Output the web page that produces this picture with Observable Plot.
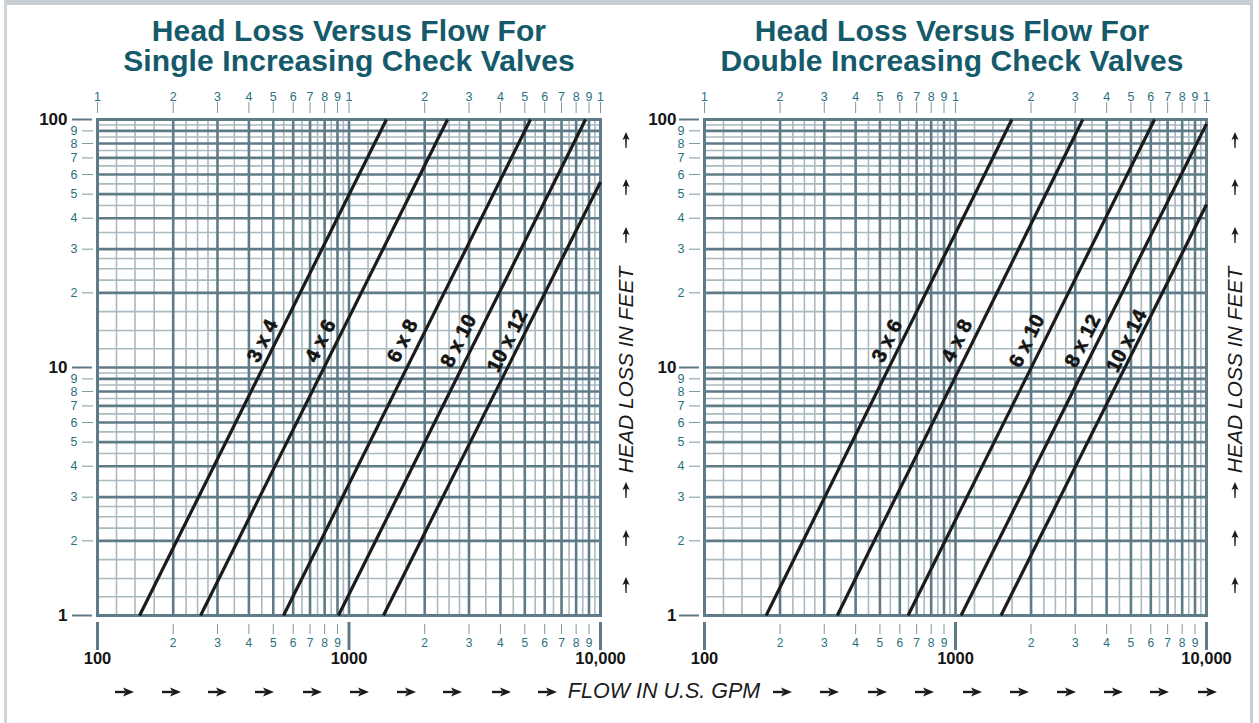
<!DOCTYPE html>
<html><head><meta charset="utf-8">
<script src="https://cdn.jsdelivr.net/npm/d3@7"></script>
<script src="https://cdn.jsdelivr.net/npm/@observablehq/plot@0.6"></script>
<style>
body{margin:0;background:#fff;}
#wrap{position:relative;width:1259px;height:723px;overflow:hidden;font-family:"Liberation Sans",Arial,sans-serif;background:#fff;}
#border{position:absolute;left:4px;top:0;width:1249px;height:740px;border-left:3px solid #d2d6db;border-right:3px solid #c9ced3;border-top:5px solid #c9ced3;box-sizing:border-box;}
.title{position:absolute;top:16px;width:600px;text-align:center;font-weight:bold;font-size:30px;line-height:30px;color:#155a6a;letter-spacing:0.1px;}
.plot{position:absolute;top:78px;}
.ylab{position:absolute;font-style:italic;font-size:21px;color:#1a1a1a;white-space:nowrap;transform:translate(-50%,-50%) rotate(-90deg);}
.xlab{position:absolute;font-style:italic;font-size:21.5px;color:#1a1a1a;white-space:nowrap;transform:translate(-50%,-50%);}
.arr{position:absolute;}
</style></head>
<body><div id="wrap"><div id="border"></div></div>
<script>
// ---------- data ----------
const singleNames     = ["3 x 4","4 x 6","6 x 8","8 x 10","10 x 12"];
const singleFlowStart = [147, 257, 549, 908, 1371];   // GPM at head 1 ft
const singleHeadStart = [1, 1, 1, 1, 1];
const singleFlowEnd   = [1409, 2465, 5268, 8718, 10000];
const singleHeadEnd   = [100, 100, 100, 100, 56];
const singleLabelFlow = [453, 770, 1632, 2724, 4266];

const doubleNames     = ["3 x 6","4 x 8","6 x 10","8 x 12","10 x 14"];
const doubleFlowStart = [176, 338, 647, 1052, 1517];
const doubleHeadStart = [1, 1, 1, 1, 1];
const doubleFlowEnd   = [1677, 3214, 6209, 10000, 10000];
const doubleHeadEnd   = [100, 100, 100, 96, 45.4];
const doubleLabelFlow = [534, 1014, 1925, 3214, 4808];

const labelHead = 12.8;

const titles = [["Head Loss Versus Flow For","Single Increasing Check Valves"],
                ["Head Loss Versus Flow For","Double Increasing Check Valves"]];

// grid / tick structure
const xDecades = [100, 1000];
const yDecades = [1, 10];
const majorMult = [1,2,3,4,5,6,7,8,9];
const minorMult = [1.19,1.41,1.68,2.25,2.5,2.75,3.5,4.5,5.5,6.5,7.5,8.5,9.5];
const xEnd = 10000, yEnd = 100;
const xDecadeLabels = [100, 1000, 10000];
const xDecadeText = ["100", "1000", "10,000"];
const yDecadeLabels = [1, 10, 100];
const yDecadeText = ["1", "10", "100"];

// ---------- helpers ----------
const cross = (decs, mults) => decs.flatMap(d => mults.map(m => d * m));
const xMajor = cross(xDecades, majorMult).concat([xEnd]);
const yMajor = cross(yDecades, majorMult).concat([yEnd]);
const xMinor = cross(xDecades, minorMult);
const yMinor = cross(yDecades, minorMult);
const xMinorTicks = cross(xDecades, majorMult.filter(m => m !== 1));
const yMinorTicks = cross(yDecades, majorMult.filter(m => m !== 1));
const lead = d => String(Math.round(d / Math.pow(10, Math.floor(Math.log10(d) + 1e-9))));
const none = () => "";

const DARK = "#5f7b87", LIGHT = "#a9b9c0", TEAL = "#2b6f80", TICK = "#7d97a1";
const FONT = "'Liberation Sans', Arial, sans-serif";

function rows(names, f1, h1, f2, h2, lf) {
  return names.map((n, i) => ({name: n, f1: f1[i], h1: h1[i], f2: f2[i], h2: h2[i], lf: lf[i], lh: labelHead}));
}

function panel(data, o) {
  return Plot.plot({
    width: o.width, height: 597,
    marginLeft: o.ml, marginRight: o.mr, marginTop: 41, marginBottom: 60,
    x: {type: "log", domain: [100, 10000], axis: null},
    y: {type: "log", domain: [1, 100], axis: null},
    style: {fontFamily: FONT, background: "transparent", overflow: "visible"},
    marks: [
      Plot.ruleX(xMinor, {stroke: LIGHT, strokeWidth: 1.6}),
      Plot.ruleY(yMinor, {stroke: LIGHT, strokeWidth: 1.6}),
      Plot.ruleX(xMajor, {stroke: DARK, strokeWidth: 2.6}),
      Plot.ruleY(yMajor, {stroke: DARK, strokeWidth: 2.6}),
      Plot.frame({stroke: DARK, strokeWidth: 3}),
      Plot.link(data, {x1: "f1", y1: "h1", x2: "f2", y2: "h2", stroke: "#1b1b1b", strokeWidth: 3.2}),
      Plot.text(data, {x: "lf", y: "lh", text: "name", rotate: -63.5, fontWeight: "bold", fontSize: 20,
        fill: "#141414", stroke: "#141414", strokeWidth: 0.6, style: "letter-spacing:0.6px"}),
      // top axis
      Plot.axisX(xMajor, {anchor: "top", tickSize: 11, dy: -7, tickFormat: none, stroke: TICK, label: null}),
      Plot.text(xMajor, {x: d => d, text: lead, frameAnchor: "top", dy: -27, fill: TEAL, fontSize: 12.5}),
      // bottom axis minor
      Plot.axisX(xMinorTicks, {anchor: "bottom", tickSize: 10, dy: 9, tickFormat: none, stroke: TICK, label: null}),
      Plot.text(xMinorTicks, {x: d => d, text: lead, frameAnchor: "bottom", dy: 31, fill: TEAL, fontSize: 12}),
      // bottom axis decades
      Plot.axisX(xDecadeLabels, {anchor: "bottom", tickSize: 28, dy: 7, strokeWidth: 3, stroke: DARK,
        tickFormat: none, label: null}),
      Plot.text(xDecadeLabels, {x: d => d, text: (d, i) => xDecadeText[i], frameAnchor: "bottom", dy: 48,
        fill: "#141414", fontWeight: "bold", fontSize: 16.5}),
      // left axis minor
      Plot.axisY(yMinorTicks, {anchor: "left", tickSize: 11, dx: -4, tickFormat: none, stroke: TICK, label: null}),
      Plot.text(yMinorTicks, {y: d => d, text: lead, frameAnchor: "left", dx: -20, textAnchor: "end",
        fill: TEAL, fontSize: 12.5}),
      // left axis decades
      Plot.axisY(yDecadeLabels, {anchor: "left", tickSize: 20, dx: -5, strokeWidth: 2, stroke: DARK,
        tickFormat: none, label: null}),
      Plot.text(yDecadeLabels, {y: d => d, text: (d, i) => yDecadeText[i], frameAnchor: "left", dx: o.decDx,
        textAnchor: "end", fill: "#141414", fontWeight: "bold", fontSize: 17})
    ]
  });
}

const wrap = document.getElementById("wrap");
const panels = [
  {data: rows(singleNames, singleFlowStart, singleHeadStart, singleFlowEnd, singleHeadEnd, singleLabelFlow),
   left: 0, width: 650, ml: 97, mr: 50, titleLeft: 49, yl: 626, decDx: -30},
  {data: rows(doubleNames, doubleFlowStart, doubleHeadStart, doubleFlowEnd, doubleHeadEnd, doubleLabelFlow),
   left: 650, width: 609, ml: 54, mr: 53, titleLeft: 652, yl: 1235, decDx: -28}
];

const NS = "http://www.w3.org/2000/svg";
function arrowSvg(dir) {
  const s = document.createElementNS(NS, "svg");
  s.setAttribute("class", "arr");
  if (dir === "right") {
    s.setAttribute("width", 20); s.setAttribute("height", 10);
    s.innerHTML = '<path d="M0,3.8 L10,3.8 L10,6.2 L0,6.2 Z" fill="#1a1a1a"/><path d="M8,0.5 L19,5 L8,9.5 L10.5,5 Z" fill="#1a1a1a"/>';
  } else {
    s.setAttribute("width", 8); s.setAttribute("height", 16);
    s.innerHTML = '<path d="M3.1,6 L4.9,6 L4.6,16 L3.4,16 Z" fill="#1a1a1a"/><path d="M4,0 L7.5,8 L4,6.3 L0.5,8 Z" fill="#1a1a1a"/>';
  }
  return s;
}

const upArrowY = [140, 187, 235, 490, 538, 585];
panels.forEach((p, i) => {
  const t = document.createElement("div");
  t.className = "title"; t.style.left = p.titleLeft + "px";
  t.innerHTML = titles[i][0] + "<br>" + titles[i][1];
  wrap.appendChild(t);
  const el = panel(p.data, p);
  el.classList.add("plot"); el.style.left = p.left + "px";
  wrap.appendChild(el);
  const yl = document.createElement("div");
  yl.className = "ylab"; yl.textContent = "HEAD LOSS IN FEET";
  yl.style.left = p.yl + "px"; yl.style.top = "370px";
  wrap.appendChild(yl);
  upArrowY.forEach(y => {
    const a = arrowSvg("up");
    a.style.left = (p.yl - 4) + "px"; a.style.top = (y - 8) + "px";
    wrap.appendChild(a);
  });
});
const xl = document.createElement("div");
xl.className = "xlab"; xl.textContent = "FLOW IN U.S. GPM";
xl.style.left = "664px"; xl.style.top = "691px";
wrap.appendChild(xl);
const rightArrowX = [125,172,218,265,313,360,407,453,502,548,783,830,878,925,973,1020,1067,1114,1160,1208];
rightArrowX.forEach(x => {
  const a = arrowSvg("right");
  a.style.left = (x - 10) + "px"; a.style.top = "687px";
  wrap.appendChild(a);
});
</script>
</body></html>
